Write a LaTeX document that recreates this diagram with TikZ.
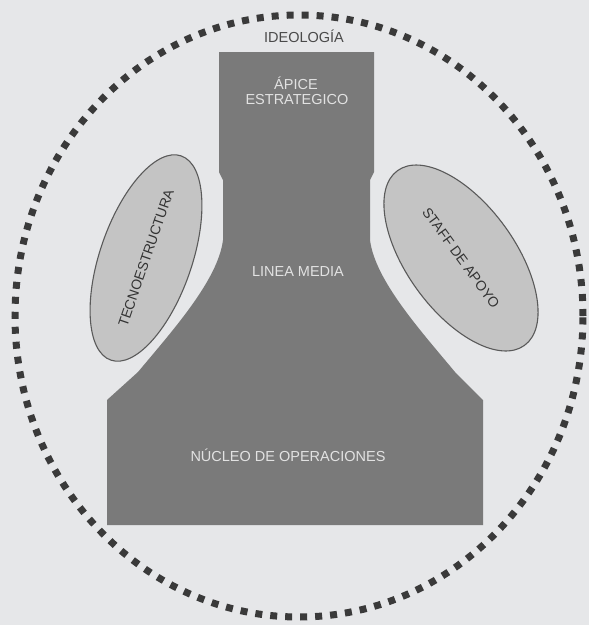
\documentclass[tikz,border=0pt]{standalone}
\usepackage{fontspec}
\setmainfont{Liberation Sans}
\usetikzlibrary{shapes.geometric}
\definecolor{bgcol}{HTML}{E6E7E9}
\definecolor{darkfill}{HTML}{7A7A7A}
\definecolor{ovalfill}{HTML}{C4C4C4}
\definecolor{ovalline}{HTML}{5A5A5A}
\definecolor{ringcol}{HTML}{3A3A3A}
\definecolor{lighttext}{HTML}{E2E2E2}
\definecolor{darktext}{HTML}{4A4A4A}
\begin{document}
\begin{tikzpicture}[x=1pt,y=-1pt,
  lbl/.style={font=\fontsize{14.5}{16}\selectfont, inner sep=0pt},
  onDark/.style={lbl, text=lighttext},
  oval/.style={ellipse, draw=ovalline, line width=1.1pt, fill=ovalfill, inner sep=0pt,
               font=\fontsize{14}{16}\selectfont, text=black!80},
  ring/.style={draw=ringcol, line width=7pt, dash pattern=on 7pt off 8pt}]
\fill[bgcol] (0,0) rectangle (589,625);
\useasboundingbox (0,0) rectangle (589,625);
% outer dashed ring
\draw[ring] (299,316) ellipse [x radius=284pt, y radius=301pt];
% organisation body
\fill[darkfill] (219,52) -- (219,172) -- (223,180) -- (223,240)
  .. controls (218,280) and (173,330) .. (138,372) -- (107,400) -- (107,525)
  -- (483,525) -- (483,400) -- (455,372)
  .. controls (420,330) and (375,280) .. (370,240) -- (370,180) -- (374,172)
  -- (374,52) -- cycle;
% side ovals
\node[oval, minimum width=216pt, minimum height=92pt, rotate=71] (tecno) at (146,258) {TECNOESTRUCTURA};
\node[oval, minimum width=216pt, minimum height=108pt, rotate=-54] (staff) at (461,258) {STAFF DE APOYO};
% labels
\node[lbl, text=darktext] (ideo) at (304,36) {IDEOLOGÍA};
\node[onDark] (apice) at (296,83) {ÁPICE};
\node[onDark] (estr) at (297,100) {ESTRATEGICO};
\node[onDark] (linea) at (298,272) {LINEA MEDIA};
\node[onDark] (nucleo) at (288,455) {NÚCLEO DE OPERACIONES};
\end{tikzpicture}
\end{document}
